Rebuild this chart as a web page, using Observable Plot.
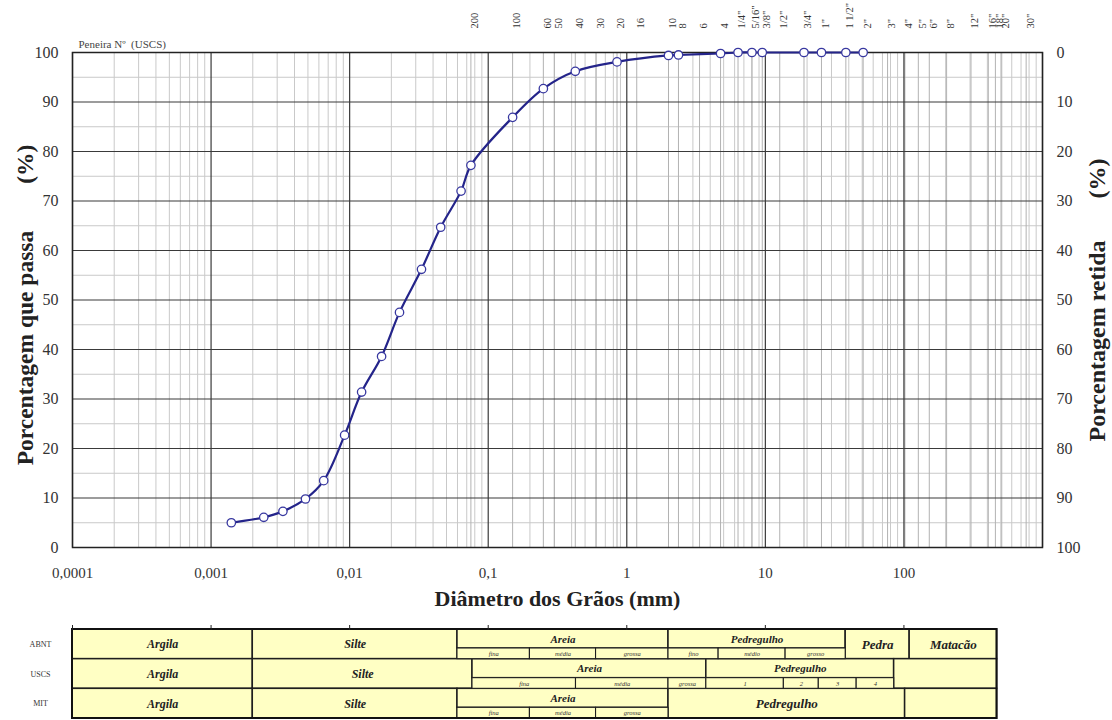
<!DOCTYPE html>
<html>
<head>
<meta charset="utf-8">
<script src="https://cdn.jsdelivr.net/npm/d3@7"></script>
<script src="https://cdn.jsdelivr.net/npm/@observablehq/plot@0.6"></script>
<style>
  body { margin: 0; background: #fff; }
  #chart svg { display: block; }
</style>
</head>
<body>
<div id="chart"></div>
<script>
// Grain-size distribution (curva granulométrica)
const diameters = [0.0014, 0.0024, 0.0033, 0.0048, 0.0065, 0.0092, 0.0122, 0.017, 0.0229, 0.033,
  0.0454, 0.0637, 0.075, 0.15, 0.25, 0.425, 0.85, 2.0, 2.36, 4.75, 6.35, 8.0, 9.5, 19.0, 25.4, 38.1, 50.8];
const passing = [5.0, 6.1, 7.3, 9.8, 13.5, 22.7, 31.4, 38.6, 47.5, 56.2,
  64.7, 72.0, 77.2, 86.9, 92.7, 96.2, 98.1, 99.4, 99.5, 99.8, 100, 100, 100, 100, 100, 100, 100];

// Sieve series (USCS), opening in mm
const sieveLabels = ["200", "100", "60", "50", "40", "30", "20", "16", "10", "8", "6", "4",
  "1/4\"", "5/16\"", "3/8\"", "1/2\"", "3/4\"", "1\"", "1 1/2\"", "2\"", "3\"", "4\"", "5\"", "6\"", "8\"",
  "12\"", "16\"", "18\"", "20\"", "30\""];
const sieveOpenings = [0.075, 0.15, 0.25, 0.3, 0.425, 0.6, 0.85, 1.18, 2.0, 2.36, 3.35, 4.75,
  6.35, 8.0, 9.5, 12.7, 19.0, 25.4, 38.1, 50.8, 76.2, 101.6, 127, 152.4, 203.2,
  304.8, 406.4, 457.2, 508, 762];

// Axis ticks
const xDomain = [0.0001, 1000];
const xTickValues = [0.0001, 0.001, 0.01, 0.1, 1, 10, 100];
const xTickLabels = ["0,0001", "0,001", "0,01", "0,1", "1", "10", "100"];
const yTicks = [0, 10, 20, 30, 40, 50, 60, 70, 80, 90, 100];

// Classification table: system, class, from (mm), to (mm) as laid out under the diameter axis
const systems = ["ABNT", "USCS", "MIT"];
const soilClasses = [
  ["ABNT", "Argila", 0.0001, 0.002],
  ["ABNT", "Silte", 0.002, 0.06],
  ["ABNT", "Areia", 0.06, 2],
  ["ABNT", "Pedregulho", 2, 38],
  ["ABNT", "Pedra", 38, 110],
  ["ABNT", "Matacão", 110, 470],
  ["USCS", "Argila", 0.0001, 0.002],
  ["USCS", "Silte", 0.002, 0.077],
  ["USCS", "Areia", 0.077, 3.75],
  ["USCS", "Pedregulho", 3.75, 85],
  ["USCS", "", 85, 470],
  ["MIT", "Argila", 0.0001, 0.002],
  ["MIT", "Silte", 0.002, 0.06],
  ["MIT", "Areia", 0.06, 2],
  ["MIT", "Pedregulho", 2, 102],
  ["MIT", "", 102, 470]
];
const soilSubclasses = [
  ["ABNT", "fina", 0.06, 0.2], ["ABNT", "média", 0.2, 0.6], ["ABNT", "grossa", 0.6, 2],
  ["ABNT", "fino", 2, 4.6], ["ABNT", "médio", 4.6, 14], ["ABNT", "grosso", 14, 38],
  ["USCS", "fina", 0.077, 0.43], ["USCS", "média", 0.43, 2], ["USCS", "grossa", 2, 3.75],
  ["USCS", "1", 3.75, 13.6], ["USCS", "2", 13.6, 24.3], ["USCS", "3", 24.3, 45.6], ["USCS", "4", 45.6, 85],
  ["MIT", "fina", 0.06, 0.2], ["MIT", "média", 0.2, 0.6], ["MIT", "grossa", 0.6, 2]
];

// ---- derived tables ----
const serif = "'Liberation Serif', 'Times New Roman', serif";
const curve = diameters.map((d, i) => ({d, p: passing[i]}));
const sieves = sieveLabels.map((label, i) => ({label, mm: sieveOpenings[i]}));
const xLabelOf = new Map(xTickValues.map((v, i) => [v, xTickLabels[i]]));
const decadeLines = [...xTickValues, 1000];
const minorX = xTickValues.flatMap(v => d3.range(2, 10).map(m => v * m));
const majorY = d3.range(10, 100, 10);
const minorY = d3.range(5, 100, 10);
const gap = n => "\u00a0".repeat(n);

const W = 1112;
const navy = "#24248a";

const chart = Plot.plot({
  width: W,
  height: 615,
  marginLeft: 72,
  marginRight: 70,
  marginTop: 52,
  marginBottom: 68,
  x: {type: "log", domain: xDomain},
  y: {domain: [0, 100]},
  style: {fontFamily: serif, color: "#333", background: "#fff"},
  marks: [
    Plot.ruleY(minorY, {stroke: "#c9c9c9", strokeWidth: 1}),
    Plot.ruleX(minorX, {stroke: "#c9c9c9", strokeWidth: 1}),
    Plot.ruleX(sieveOpenings, {stroke: "#b2b2b2", strokeWidth: 1}),
    Plot.ruleY(majorY, {stroke: "#3a3a3a", strokeWidth: 1.2}),
    Plot.ruleX(decadeLines, {stroke: "#3a3a3a", strokeWidth: 1.2}),
    Plot.frame({stroke: "#222", strokeWidth: 1.5}),
    Plot.line(curve, {x: "d", y: "p", curve: "catmull-rom", stroke: navy, strokeWidth: 2.2}),
    Plot.dot(curve, {x: "d", y: "p", r: 4.2, fill: "white", stroke: "#3838a0", strokeWidth: 1.3}),
    Plot.axisY({anchor: "left", ticks: yTicks, tickSize: 0, tickPadding: 14, fontSize: 16, label: null}),
    Plot.axisY({anchor: "right", ticks: yTicks, tickFormat: d => String(100 - d), tickSize: 0, tickPadding: 14, fontSize: 16, label: null}),
    Plot.axisX({anchor: "bottom", ticks: xTickValues, tickFormat: d => xLabelOf.get(d) ?? "", tickSize: 0, tickPadding: 20, fontSize: 15, label: null}),
    Plot.text(sieves, {x: "mm", frameAnchor: "top", text: "label", rotate: -90, textAnchor: "start", dy: -24, fontSize: 10.5, fill: "#333"}),
    Plot.text(["Peneira Nº" + gap(2) + "(USCS)"], {frameAnchor: "top-left", dx: 6, dy: -12, textAnchor: "start", fontSize: 11, fill: "#444"}),
    Plot.text(["Porcentagem que passa" + gap(8) + "(%)"], {frameAnchor: "left", textAnchor: "middle", dx: -47, dy: 5, rotate: -90, fontSize: 23.5, fontWeight: "bold", fill: "#222"}),
    Plot.text(["Porcentagem retida" + gap(7) + "(%)"], {frameAnchor: "right", textAnchor: "middle", dx: 55, rotate: -90, fontSize: 24, fontWeight: "bold", fill: "#222"}),
    Plot.text(["Diâmetro dos Grãos (mm)"], {frameAnchor: "bottom", textAnchor: "middle", dy: 58, fontSize: 22, fontWeight: "bold", fill: "#222"})
  ]
});

// Classification table drawn on the diameter scale
const subSplit = 0.64;
const hasSub = (sys, a, b) => soilSubclasses.some(s => s[0] === sys && s[2] >= a && s[3] <= b);
const mainCells = soilClasses.map(([sys, name, from, to]) => {
  const row = systems.indexOf(sys);
  const split = hasSub(sys, from, to);
  const y1 = row, y2 = split ? row + subSplit : row + 1;
  return {sys, name, from, to, y1, y2, yc: (y1 + y2) / 2, mid: Math.sqrt(from * to), split};
});
const subCells = soilSubclasses.map(([sys, name, from, to]) => {
  const row = systems.indexOf(sys);
  const y1 = row + subSplit, y2 = row + 1;
  return {sys, name, from, to, y1, y2, yc: (y1 + y2) / 2, mid: Math.sqrt(from * to)};
});
const bigNames = new Set(["Pedra", "Matacão", "Pedregulho"]);

const table = Plot.plot({
  width: W,
  height: 105,
  marginLeft: 72,
  marginRight: 70,
  marginTop: 14,
  marginBottom: 2,
  x: {type: "log", domain: xDomain},
  y: {domain: [3, 0], axis: null},
  style: {fontFamily: serif, color: "#222", background: "#fff"},
  marks: [
    Plot.rect(mainCells, {x1: "from", x2: "to", y1: "y1", y2: "y2", fill: "#ffffc4", stroke: "#1e1e1e", strokeWidth: 1.5}),
    Plot.rect(subCells, {x1: "from", x2: "to", y1: "y1", y2: "y2", fill: "#ffffc4", stroke: "#1e1e1e", strokeWidth: 1.1}),
    Plot.rect([0], {x1: xDomain[0], x2: 470, y1: 0, y2: 3, fill: "none", stroke: "#111", strokeWidth: 2}),
    Plot.text(mainCells, {x: "mid", y: "yc", text: "name", fontStyle: "italic", fontWeight: "bold",
      fontSize: d => d.split ? 11 : (bigNames.has(d.name) ? 13 : 12), fill: "#222"}),
    Plot.text(subCells, {x: "mid", y: "yc", text: "name", fontStyle: "italic", fontSize: 6.5, fill: "#333"}),
    Plot.text(systems, {x: () => xDomain[0], y: (d, i) => i + 0.5, dx: -32, fontSize: 8, fill: "#333"}),
    Plot.axisX({anchor: "top", ticks: xTickValues, tickFormat: () => "", tickSize: 5, stroke: "#222", label: null})
  ]
});

document.getElementById("chart").append(chart, table);
</script>
</body>
</html>
